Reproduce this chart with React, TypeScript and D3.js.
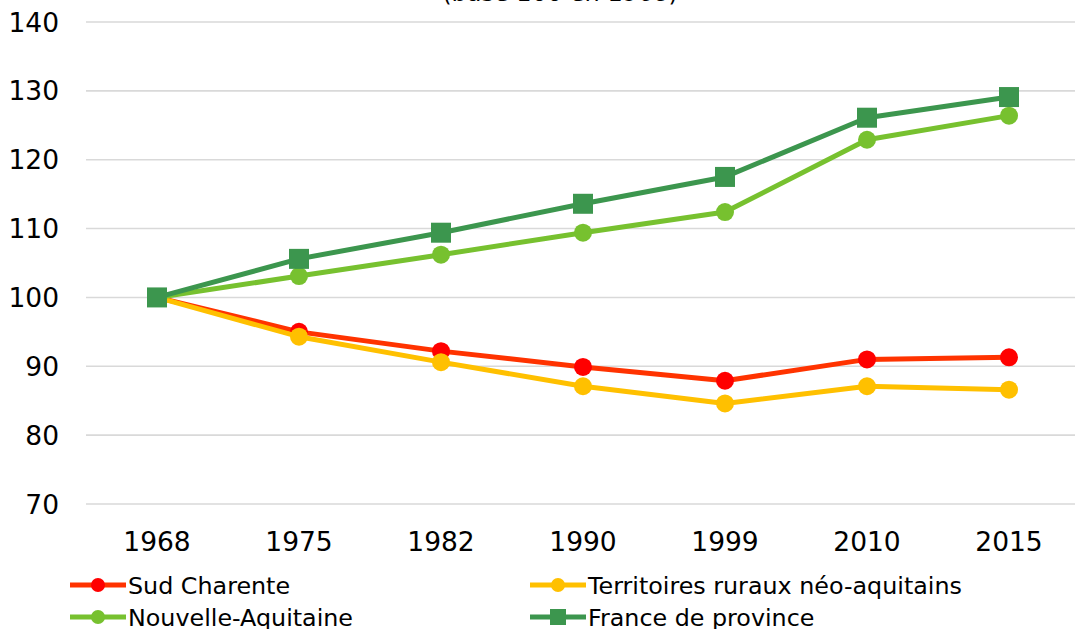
import React from "react";
import * as d3 from "d3";

const years = ["1968", "1975", "1982", "1990", "1999", "2010", "2015"];
const sudCharente = [100, 95.0, 92.2, 89.9, 87.9, 91.0, 91.3];
const territoiresRuraux = [100, 94.3, 90.6, 87.1, 84.6, 87.1, 86.6];
const nouvelleAquitaine = [100, 103.1, 106.2, 109.4, 112.4, 122.9, 126.4];
const franceProvince = [100, 105.6, 109.4, 113.6, 117.5, 126.1, 129.1];
const yTicks = [70, 80, 90, 100, 110, 120, 130, 140];

const series = [
  { name: "Sud Charente", values: sudCharente, line: "#FF3300", marker: "#FF0000", shape: "circle" },
  { name: "Territoires ruraux néo-aquitains", values: territoiresRuraux, line: "#FFC000", marker: "#FFC000", shape: "circle" },
  { name: "Nouvelle-Aquitaine", values: nouvelleAquitaine, line: "#77C12F", marker: "#77C12F", shape: "circle" },
  { name: "France de province", values: franceProvince, line: "#3C964E", marker: "#3C964E", shape: "square" },
];

const W = 1075;
const H = 629;
const font = "Verdana, 'DejaVu Sans', sans-serif";

export default function App() {
  const x = d3.scaleBand().domain(years).range([86, 1080]);
  const y = d3.scaleLinear().domain([70, 140]).range([504, 22]);
  const cx = (yr: string) => (x(yr) as number) + x.bandwidth() / 2;
  const line = d3
    .line<number>()
    .x((_, i) => cx(years[i]))
    .y((v) => y(v));

  const legendPos = [
    { x: 70, y: 585 },
    { x: 530, y: 585 },
    { x: 70, y: 617 },
    { x: 530, y: 617 },
  ];

  return (
    <svg
      width={W}
      height={H}
      style={{ position: "absolute", left: 0, top: 0, background: "#fff" }}
      fontFamily={font}
    >
      <rect width={W} height={H} fill="#fff" />
      <text x={560} y={1} textAnchor="middle" fontSize={24} fill="#000">
        (base 100 en 1968)
      </text>
      {yTicks.map((t) => (
        <g key={t}>
          <line x1={86} x2={1080} y1={y(t)} y2={y(t)} stroke="#d9d9d9" strokeWidth={1.6} />
          <text x={59} y={y(t)} dy="0.36em" textAnchor="end" fontSize={26.5} fill="#000">
            {t}
          </text>
        </g>
      ))}
      {years.map((yr) => (
        <text key={yr} x={cx(yr)} y={541} dy="0.36em" textAnchor="middle" fontSize={26.5} fill="#000">
          {yr}
        </text>
      ))}
      {series.map((s) => (
        <g key={s.name}>
          <path d={line(s.values) || ""} fill="none" stroke={s.line} strokeWidth={5} strokeLinejoin="round" />
          {s.values.map((v, i) =>
            s.shape === "square" ? (
              <rect key={i} x={cx(years[i]) - 10} y={y(v) - 10} width={20} height={20} fill={s.marker} />
            ) : (
              <circle key={i} cx={cx(years[i])} cy={y(v)} r={9} fill={s.marker} />
            )
          )}
        </g>
      ))}
      {series.map((s, i) => {
        const p = legendPos[i];
        return (
          <g key={s.name}>
            <line x1={p.x} x2={p.x + 56} y1={p.y} y2={p.y} stroke={s.line} strokeWidth={5} />
            {s.shape === "square" ? (
              <rect x={p.x + 28 - 8} y={p.y - 8} width={16} height={16} fill={s.marker} />
            ) : (
              <circle cx={p.x + 28} cy={p.y} r={7} fill={s.marker} />
            )}
            <text x={p.x + 58} y={p.y} dy="0.36em" fontSize={23.8} fill="#000">
              {s.name}
            </text>
          </g>
        );
      })}
    </svg>
  );
}
